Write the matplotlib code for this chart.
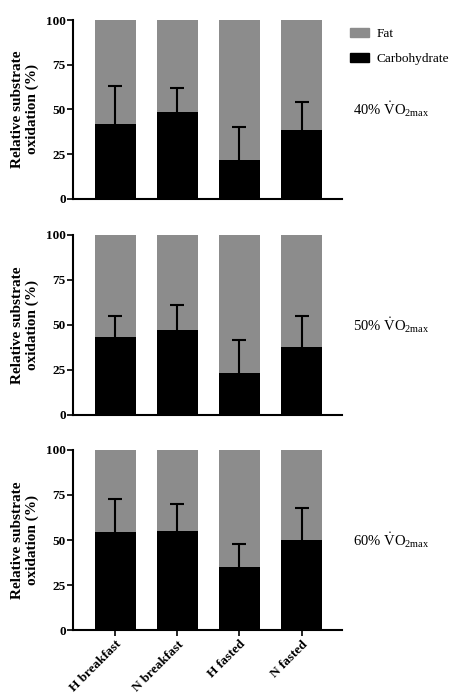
import matplotlib
matplotlib.use("Agg")
import matplotlib.pyplot as plt
from matplotlib.patches import Patch
import numpy as np

categories = ["H breakfast", "N breakfast", "H fasted", "N fasted"]
intensities = ["40%", "50%", "60%"]
carb_40 = [42, 48.5, 22, 38.5]
carb_40_err = [21, 13.5, 18, 15.5]
carb_50 = [43, 47, 23.5, 37.5]
carb_50_err = [12, 14, 18, 17.5]
carb_60 = [54.5, 55, 35, 50]
carb_60_err = [18, 15, 13, 17.5]
yticks = [0, 25, 50, 75, 100]

carbs = [carb_40, carb_50, carb_60]
errs = [carb_40_err, carb_50_err, carb_60_err]

plt.rcParams['font.family'] = ['Liberation Serif', 'DejaVu Serif']
plt.rcParams['mathtext.fontset'] = 'custom'
plt.rcParams['mathtext.rm'] = 'Liberation Serif'
plt.rcParams['mathtext.it'] = 'Liberation Serif:italic'
plt.rcParams['mathtext.bf'] = 'Liberation Serif:bold'

fig = plt.figure(figsize=(4.53, 6.97), dpi=100)
fat_color = "#8c8c8c"
positions = [(0.7145, 0.9713), (0.4046, 0.6633), (0.0961, 0.3544)]
left, width = 0.161, 0.594
x = np.arange(len(categories))

for i, (carb, err) in enumerate(zip(carbs, errs)):
    b, t = positions[i]
    ax = fig.add_axes([left, b, width, t - b])
    carb = np.array(carb)
    ax.bar(x, 100 - carb, bottom=carb, width=0.66, color=fat_color, zorder=1)
    ax.bar(x, carb, width=0.66, color="black", zorder=2)
    eb = ax.errorbar(x, carb, yerr=[np.zeros_like(carb), err], fmt='none',
                     ecolor='black', elinewidth=1.5, capsize=5, capthick=1.5, zorder=3)
    caps = eb.lines[1]
    if len(caps) == 2:
        caps[0].set_visible(False)
    ax.set_xlim(-0.68, 3.65)
    ax.set_ylim(0, 100)
    ax.set_yticks(yticks)
    ax.set_yticklabels([str(v) for v in yticks], fontweight='bold', fontsize=9.5)
    for s in ['top', 'right']:
        ax.spines[s].set_visible(False)
    for s in ['left', 'bottom']:
        ax.spines[s].set_linewidth(1.5)
    ax.tick_params(axis='y', width=1.2, length=4, pad=1)
    if i == 2:
        ax.set_xticks(x)
        ax.set_xticklabels(categories, rotation=45, ha='right', rotation_mode='anchor',
                           fontweight='bold', fontsize=9.5)
        ax.tick_params(axis='x', width=1.2, length=4, pad=2)
    else:
        ax.set_xticks([])
    ax.set_ylabel("Relative substrate\noxidation (%)", fontweight='bold', fontsize=11,
                  labelpad=5)
    ax.text(1.04, 0.5, intensities[i] + r" $\dot{\mathrm{V}}\mathrm{O}_{\mathrm{2max}}$",
            transform=ax.transAxes, fontsize=10.5, va='center', ha='left')

handles = [Patch(color=fat_color, label="Fat"), Patch(color="black", label="Carbohydrate")]
fig.legend(handles=handles, loc='upper left', bbox_to_anchor=(0.773, 0.960),
           frameon=False, fontsize=9.6, handlelength=1.4, handleheight=0.65,
           labelspacing=0.95, handletextpad=0.6, borderaxespad=0, borderpad=0)

fig.savefig("out.png", dpi=100)
